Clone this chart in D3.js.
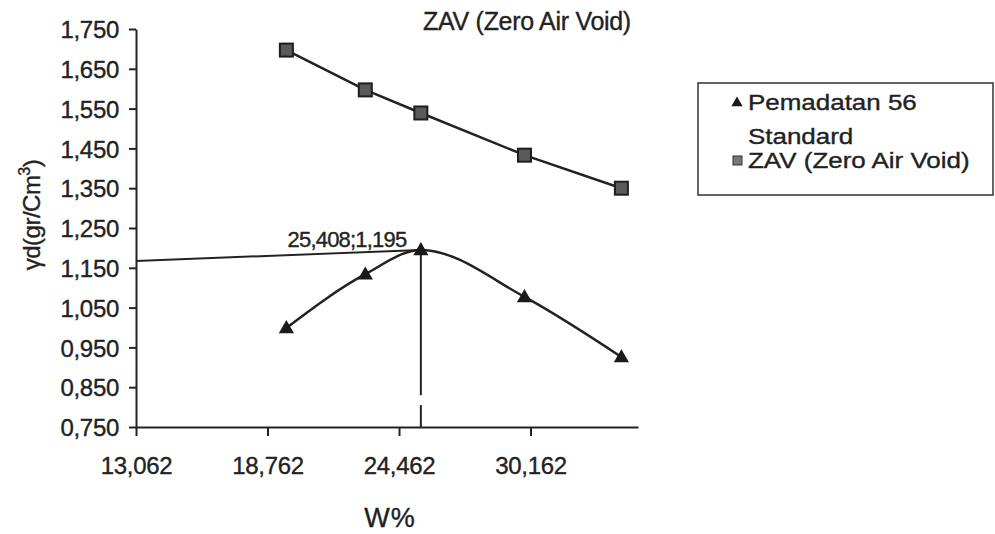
<!DOCTYPE html>
<html>
<head>
<meta charset="utf-8">
<script src="https://cdn.jsdelivr.net/npm/d3@7"></script>
<style>
  body { margin: 0; background: #fff; }
  svg text { font-family: "Liberation Sans", Arial, sans-serif; fill: #222; stroke: #222; stroke-width: 0.35px; }
</style>
</head>
<body>
<svg id="chart" width="995" height="534"></svg>
<script>
// values (W% vs dry density)
let xTicks = [13.062, 18.762, 24.462, 30.162]
let yTicks = [0.75, 0.85, 0.95, 1.05, 1.15, 1.25, 1.35, 1.45, 1.55, 1.65, 1.75]

var waterContent = [19.58, 23.0, 25.408, 29.9, 34.1]
var compaction = [0.999, 1.134, 1.195, 1.077, 0.926]    // Pemadatan 56 Standard
var zav = [1.697, 1.597, 1.539, 1.433, 1.350]          // ZAV (Zero Air Void)

var peak = {x: 25.408, y: 1.195}
var leaderStart = {x: 13.062, y: 1.167}
var dropSegments = [[1.195, 0.83], [0.805, 0.75]]

var legendNames = [['Pemadatan 56', 'Standard'], ['ZAV (Zero Air Void)']]

// comma as decimal sign, like the original
var loc = d3.formatLocale({decimal: ',', thousands: '.', grouping: [3], currency: ['', '']})
var fmt = loc.format('.3f')

var svg = d3.select('#chart')

var x = d3.scaleLinear().domain([13.062, 34.82]).range([136, 638])
var y = d3.scaleLinear().domain([0.75, 1.75]).range([427, 29])

// axes
var gy = svg.append('g')
    .attr('transform', 'translate(136,0)')
    .call(d3.axisLeft(y).tickValues(yTicks).tickFormat(fmt).tickSize(7).tickSizeOuter(0))
gy.select('.domain').attr('stroke', '#222').attr('stroke-width', 2)
gy.selectAll('.tick line').attr('stroke', '#222').attr('stroke-width', 2)
gy.selectAll('.tick text')
    .attr('x', -17)
    .attr('dy', '0.36em')
    .style('font-size', '24px')
    .style('letter-spacing', '-0.3px')
    .attr('fill', '#222')

var gx = svg.append('g')
    .attr('transform', 'translate(0,427)')
    .call(d3.axisBottom(x).tickValues(xTicks).tickFormat(fmt).tickSize(9).tickSizeOuter(0))
gx.select('.domain').attr('stroke', '#222').attr('stroke-width', 2)
gx.selectAll('.tick line').attr('stroke', '#222').attr('stroke-width', 2)
gx.selectAll('.tick text')
    .attr('y', 30)
    .style('font-size', '24px')
    .style('letter-spacing', '-0.3px')
    .attr('fill', '#222')

// axis titles
svg.append('text')
    .attr('x', 390).attr('y', 527)
    .attr('text-anchor', 'middle')
    .style('font-size', '27px')
    .style('letter-spacing', '1px')
    .text('W%')

var yl = svg.append('text')
    .attr('transform', 'translate(40,215) rotate(-90)')
    .attr('text-anchor', 'middle')
    .style('font-size', '24px')
    .style('letter-spacing', '-0.5px')
yl.append('tspan').text('γd(gr/Cm')
yl.append('tspan').attr('dy', -10).style('font-size', '16px').text('3')
yl.append('tspan').attr('dy', 10).text(')')

// title
svg.append('text')
    .attr('x', 527).attr('y', 30)
    .attr('text-anchor', 'middle')
    .style('font-size', '25px')
    .style('letter-spacing', '-0.3px')
    .text('ZAV (Zero Air Void)')

// leader lines to the peak
svg.append('line')
    .attr('x1', x(leaderStart.x)).attr('y1', y(leaderStart.y))
    .attr('x2', x(peak.x)).attr('y2', y(peak.y))
    .attr('stroke', '#222').attr('stroke-width', 2)

svg.selectAll('line.drop')
    .data(dropSegments)
    .enter()
    .append('line')
    .attr('class', 'drop')
    .attr('x1', x(peak.x)).attr('x2', x(peak.x))
    .attr('y1', d => y(d[0]))
    .attr('y2', d => y(d[1]))
    .attr('stroke', '#222').attr('stroke-width', 2)

// series lines
var zavPts = waterContent.map((w, i) => [w, zav[i]])
var compPts = waterContent.map((w, i) => [w, compaction[i]])

svg.append('path')
    .datum(zavPts)
    .attr('fill', 'none').attr('stroke', '#222').attr('stroke-width', 2.5)
    .attr('d', d3.line().x(d => x(d[0])).y(d => y(d[1])))

svg.append('path')
    .datum(compPts)
    .attr('fill', 'none').attr('stroke', '#222').attr('stroke-width', 2.5)
    .attr('d', d3.line().curve(d3.curveMonotoneX).x(d => x(d[0])).y(d => y(d[1])))

// markers
var tri = d3.symbol().type(d3.symbolTriangle).size(100)

svg.selectAll('rect.zav')
    .data(zavPts)
    .enter()
    .append('rect')
    .attr('class', 'zav')
    .attr('x', d => x(d[0]) - 6.5).attr('y', d => y(d[1]) - 6.5)
    .attr('width', 13).attr('height', 13)
    .attr('fill', '#5a5a5a').attr('stroke', '#1e1e1e').attr('stroke-width', 2)

svg.selectAll('path.tri')
    .data(compPts)
    .enter()
    .append('path')
    .attr('class', 'tri')
    .attr('transform', d => 'translate(' + x(d[0]) + ',' + (y(d[1]) + 1) + ')')
    .attr('d', tri)
    .attr('fill', '#1a1a1a')

// peak label
svg.append('text')
    .attr('x', 347).attr('y', 247)
    .attr('text-anchor', 'middle')
    .style('font-size', '22px')
    .style('letter-spacing', '-0.8px')
    .text(fmt(peak.x) + ';' + fmt(peak.y))

// legend
var lg = svg.append('g').attr('transform', 'translate(698,83)')
lg.append('rect')
    .attr('width', 295).attr('height', 112)
    .attr('fill', 'none').attr('stroke', '#333').attr('stroke-width', 1.5)

lg.append('path')
    .attr('transform', 'translate(39,20)')
    .attr('d', d3.symbol().type(d3.symbolTriangle).size(55))
    .attr('fill', '#1a1a1a')
lg.append('rect')
    .attr('x', 35).attr('y', 73).attr('width', 9).attr('height', 9)
    .attr('fill', '#777').attr('stroke', '#333').attr('stroke-width', 1)

// the scanned legend text is wide for its height, so stretch it a bit
var lt = lg.append('text')
    .attr('transform', 'translate(50,0) scale(1.18,1)')
    .style('font-size', '22px')
lt.append('tspan').attr('x', 0).attr('y', 27).text(legendNames[0][0])
lt.append('tspan').attr('x', 0).attr('y', 61).text(legendNames[0][1])
lt.append('tspan').attr('x', 0).attr('y', 85).text(legendNames[1][0])
</script>
</body>
</html>
